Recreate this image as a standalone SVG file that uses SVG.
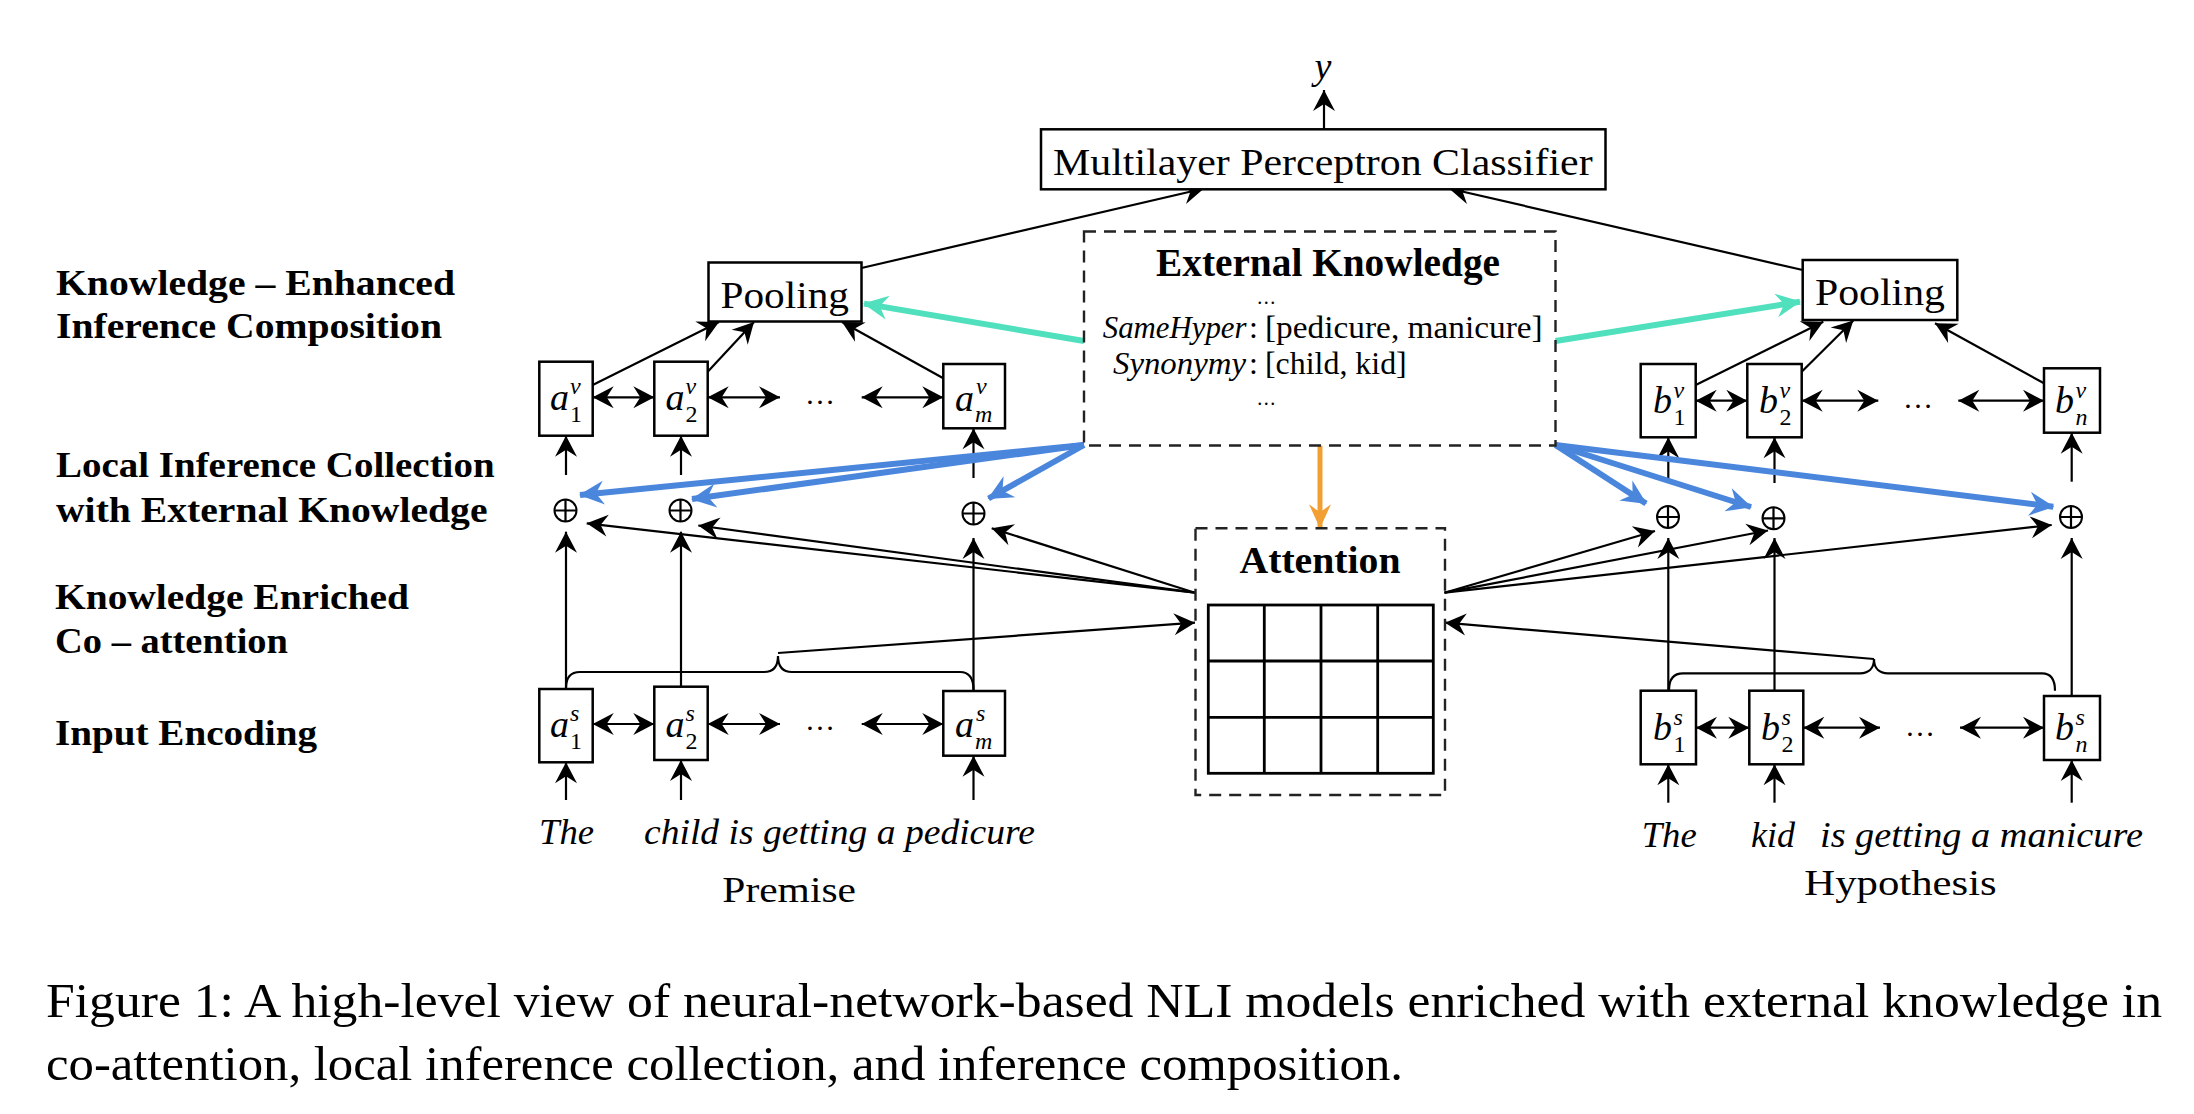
<svg xmlns="http://www.w3.org/2000/svg" width="2194" height="1114" viewBox="0 0 2194 1114">
<defs>
<style>
.box{fill:#fff;stroke:#000;stroke-width:2.5}
.dash{fill:none;stroke:#222;stroke-width:2.4;stroke-dasharray:12 8}
.ln{fill:none;stroke:#000;stroke-width:2.2}
.arr{marker-end:url(#ah)}
.dbl{marker-start:url(#ah);marker-end:url(#ah)}
.blue{fill:none;stroke:#4A86DC;stroke-width:6;marker-end:url(#ahb)}
.green{fill:none;stroke:#50E0BE;stroke-width:6;marker-end:url(#ahg)}
.orange{fill:none;stroke:#F2A033;stroke-width:5;marker-end:url(#aho)}
.grid{fill:none;stroke:#000;stroke-width:2.8}
.oplus{fill:#fff;stroke:#000;stroke-width:2}
text{font-family:"Liberation Serif","Times New Roman",serif;fill:#000}
.lbl{font-size:36px;font-weight:bold}
.t{font-size:38px}
.b{font-weight:bold}
.it{font-style:italic}
.w{font-size:35px;font-style:italic}
.m{font-size:38px;font-style:italic}
.sp{font-size:24px;font-style:italic}
.sb{font-size:24px}
.el{font-size:30px}
.kb{font-size:32px}
.kd{font-size:20px;letter-spacing:1.5px}
.cap{font-size:48px}
</style>
<marker id="ah" markerUnits="userSpaceOnUse" markerWidth="24" markerHeight="24" viewBox="-22 -12 24 24" refX="0" refY="0" orient="auto-start-reverse"><path d="M0,0 L-21,-11 L-14,0 L-21,11 Z" fill="#000"/></marker>
<marker id="ahb" markerUnits="userSpaceOnUse" markerWidth="28" markerHeight="28" viewBox="-26 -14 28 28" refX="0" refY="0" orient="auto"><path d="M1,0 L-24,-12 L-16,0 L-24,12 Z" fill="#4A86DC"/></marker>
<marker id="ahg" markerUnits="userSpaceOnUse" markerWidth="28" markerHeight="28" viewBox="-26 -14 28 28" refX="0" refY="0" orient="auto"><path d="M1,0 L-24,-12 L-16,0 L-24,12 Z" fill="#50E0BE"/></marker>
<marker id="aho" markerUnits="userSpaceOnUse" markerWidth="28" markerHeight="28" viewBox="-26 -14 28 28" refX="0" refY="0" orient="auto"><path d="M1,0 L-23,-11 L-15,0 L-23,11 Z" fill="#F2A033"/></marker>
</defs>
<rect width="2194" height="1114" fill="#fff"/>

<g id="connectors">
<path class="ln arr" d="M1324,129.3 L1324,90"/>
<path class="ln arr" d="M861.5,268 L1204,188.5"/>
<path class="ln arr" d="M1802.7,270 L1449,188.5"/>
<path class="ln arr" d="M592.7,385 L719,322"/>
<path class="ln arr" d="M707.7,371.7 L754,322"/>
<path class="ln arr" d="M943.3,378.3 L842,322"/>
<path class="ln arr" d="M1695.7,385 L1823.3,321.7"/>
<path class="ln arr" d="M1801.7,371.7 L1853.3,320.5"/>
<path class="ln arr" d="M2044,383.3 L1935,323.3"/>
<path class="ln dbl" d="M592.7,397.3 L654.3,397.3"/>
<path class="ln dbl" d="M707.7,397.3 L780,397.3"/>
<path class="ln dbl" d="M861.7,397.3 L943.3,397.3"/>
<path class="ln dbl" d="M592.7,724 L654.3,724"/>
<path class="ln dbl" d="M707.7,724 L780,724"/>
<path class="ln dbl" d="M861.7,724 L943.3,724"/>
<path class="ln dbl" d="M1695.7,400.7 L1747.3,400.7"/>
<path class="ln dbl" d="M1801.7,400.7 L1878.3,400.7"/>
<path class="ln dbl" d="M1958.3,400.7 L2044,400.7"/>
<path class="ln dbl" d="M1696,727.7 L1749.3,727.7"/>
<path class="ln dbl" d="M1803.3,727.7 L1880,727.7"/>
<path class="ln dbl" d="M1960,727.7 L2044,727.7"/>
<path class="ln arr" d="M566,475 L566,435.7"/>
<path class="ln arr" d="M681,475 L681,435.7"/>
<path class="ln arr" d="M973.5,478 L973.5,428.3"/>
<path class="ln arr" d="M1668.3,481.7 L1668.3,437.3"/>
<path class="ln arr" d="M1774.5,483 L1774.5,437.3"/>
<path class="ln arr" d="M2071.7,481.7 L2071.7,432.7"/>
<path class="ln arr" d="M566,689 L566,531.7"/>
<path class="ln arr" d="M681,686.7 L681,531.7"/>
<path class="ln arr" d="M973.5,691 L973.5,538"/>
<path class="ln arr" d="M1668.3,690.7 L1668.3,538"/>
<path class="ln arr" d="M1774.5,690.7 L1774.5,538"/>
<path class="ln arr" d="M2071.7,696 L2071.7,538"/>
<path class="ln arr" d="M566,800 L566,762.3"/>
<path class="ln arr" d="M681,800 L681,760"/>
<path class="ln arr" d="M973.5,800 L973.5,755.7"/>
<path class="ln arr" d="M1668.3,802.7 L1668.3,764.3"/>
<path class="ln arr" d="M1774.5,802.7 L1774.5,764.3"/>
<path class="ln arr" d="M2071.7,802.7 L2071.7,760"/>
<path class="ln arr" d="M1195,592.7 L586.7,523.3"/>
<path class="ln arr" d="M1195,592.7 L698.3,525.5"/>
<path class="ln arr" d="M1195,592.7 L991.7,528.3"/>
<path class="ln arr" d="M1444.5,592.7 L1655,531"/>
<path class="ln arr" d="M1444.5,592.7 L1768,530.5"/>
<path class="ln arr" d="M1444.5,592.7 L2051.7,525"/>
<path class="ln arr" d="M778,653 L1195,622.7"/>
<path class="ln arr" d="M1874,659 L1445,622.7"/>
<path class="ln" d="M566,688 C566,678 570,672 580,672 L764,672 C772,672 778,668 778,656 C778,668 784,672 792,672 L960,672 C969,672 973.5,678 973.5,690"/>
<path class="ln" d="M1669,690 C1669,680 1673,673.3 1683,673.3 L1860,673.3 C1868,673.3 1874,669 1874,659 C1874,669 1880,673.3 1888,673.3 L2042,673.3 C2051,673.3 2055,680 2055,690.7"/>
<path class="blue" d="M1084,445 L580,495"/>
<path class="blue" d="M1084,445 L692,499"/>
<path class="blue" d="M1084,445 L988.5,498.5"/>
<path class="blue" d="M1555.5,445 L1646,503.5"/>
<path class="blue" d="M1555.5,445 L1751,507"/>
<path class="blue" d="M1555.5,445 L2053.3,506.7"/>
<path class="green" d="M1084,341 L864,303.6"/>
<path class="green" d="M1555.5,341 L1800,301.7"/>
<path class="orange" d="M1320,445.7 L1320,527.3"/>
</g>

<g id="output-y"><text class="m" x="1323" y="79" text-anchor="middle">y</text></g>

<g id="mlp">
<rect class="box" x="1041" y="129.3" width="564.5" height="60"/>
<text class="t" x="1053" y="175" textLength="539.6" lengthAdjust="spacingAndGlyphs">Multilayer Perceptron Classifier</text>
</g>

<g id="pooling-premise">
<rect class="box" x="708.5" y="262.5" width="153" height="59"/>
<text class="t" x="720.5" y="307.8" textLength="128.5" lengthAdjust="spacingAndGlyphs">Pooling</text>
</g>
<g id="pooling-hypothesis">
<rect class="box" x="1802.7" y="260" width="154.6" height="60"/>
<text class="t" x="1815" y="305" textLength="130" lengthAdjust="spacingAndGlyphs">Pooling</text>
</g>

<g id="external-knowledge">
<rect class="dash" x="1084" y="231.5" width="471.5" height="214"/>
<text class="b" style="font-size:40px" x="1156" y="276" textLength="344" lengthAdjust="spacingAndGlyphs">External Knowledge</text>
<text class="kd" x="1267" y="304" text-anchor="middle">...</text>
<text class="kb it" x="1246.5" y="338.3" text-anchor="end" textLength="143.7" lengthAdjust="spacingAndGlyphs">SameHyper</text>
<text class="kb" x="1249" y="338.3">:</text>
<text class="kb" x="1265" y="338.3" textLength="277.7" lengthAdjust="spacingAndGlyphs">[pedicure, manicure]</text>
<text class="kb it" x="1246" y="374.3" text-anchor="end" textLength="133" lengthAdjust="spacingAndGlyphs">Synonymy</text>
<text class="kb" x="1249" y="374.3">:</text>
<text class="kb" x="1265" y="374.3" textLength="141.7" lengthAdjust="spacingAndGlyphs">[child, kid]</text>
<text class="kd" x="1267" y="405" text-anchor="middle">...</text>
</g>

<g id="attention">
<rect class="dash" x="1195.5" y="528.3" width="249.5" height="266.7"/>
<text class="b t" x="1239.5" y="572.7" textLength="161" lengthAdjust="spacingAndGlyphs">Attention</text>
<rect class="grid" x="1208.3" y="605" width="225" height="168.3"/>
<path class="grid" d="M1264.3,605 V773.3 M1321,605 V773.3 M1377.7,605 V773.3 M1208.3,661 H1433.3 M1208.3,717.3 H1433.3"/>
</g>

<g id="a1v"><rect class="box" x="539.3" y="361.7" width="53.4" height="74"/><text class="m" x="550" y="410">a</text><text class="sp" x="570" y="394.3">v</text><text class="sb" x="570" y="421.8">1</text></g>
<g id="a2v"><rect class="box" x="654.3" y="361.7" width="53.4" height="74"/><text class="m" x="665.5" y="410">a</text><text class="sp" x="685.5" y="394.3">v</text><text class="sb" x="685.5" y="421.8">2</text></g>
<g id="amv"><rect class="box" x="943.3" y="364" width="61.7" height="64.3"/><text class="m" x="955" y="410.5">a</text><text class="sp" x="976" y="394.3">v</text><text class="sp" x="975" y="421.8">m</text></g>
<g id="a1s"><rect class="box" x="539.3" y="689" width="53.4" height="73.3"/><text class="m" x="550" y="736.7">a</text><text class="sp" x="570" y="721">s</text><text class="sb" x="570" y="748.5">1</text></g>
<g id="a2s"><rect class="box" x="654.3" y="686.7" width="53.4" height="73.3"/><text class="m" x="665.5" y="736.7">a</text><text class="sp" x="685.5" y="721">s</text><text class="sb" x="685.5" y="748.5">2</text></g>
<g id="ams"><rect class="box" x="943.3" y="691" width="61.7" height="64.7"/><text class="m" x="955" y="737">a</text><text class="sp" x="976" y="721">s</text><text class="sp" x="975" y="748.5">m</text></g>

<g id="b1v"><rect class="box" x="1640.7" y="364" width="55" height="73.3"/><text class="m" x="1653" y="413">b</text><text class="sp" x="1673.5" y="397.7">v</text><text class="sb" x="1673.5" y="425.2">1</text></g>
<g id="b2v"><rect class="box" x="1747.3" y="364" width="54.4" height="73.3"/><text class="m" x="1759" y="413">b</text><text class="sp" x="1779.5" y="397.7">v</text><text class="sb" x="1779.5" y="425.2">2</text></g>
<g id="bnv"><rect class="box" x="2044" y="368.3" width="56" height="64.4"/><text class="m" x="2055" y="413">b</text><text class="sp" x="2075.5" y="397.7">v</text><text class="sp" x="2075.5" y="425.2">n</text></g>
<g id="b1s"><rect class="box" x="1640.7" y="690.7" width="55.3" height="73.6"/><text class="m" x="1653" y="740">b</text><text class="sp" x="1673.5" y="724.7">s</text><text class="sb" x="1673.5" y="752.2">1</text></g>
<g id="b2s"><rect class="box" x="1749.3" y="690.7" width="54" height="73.6"/><text class="m" x="1761" y="740">b</text><text class="sp" x="1781.5" y="724.7">s</text><text class="sb" x="1781.5" y="752.2">2</text></g>
<g id="bns"><rect class="box" x="2044" y="696" width="56" height="64"/><text class="m" x="2055" y="740">b</text><text class="sp" x="2075.5" y="724.7">s</text><text class="sp" x="2075.5" y="752.2">n</text></g>

<g id="ellipses">
<text class="el" x="820" y="404" text-anchor="middle">…</text>
<text class="el" x="820" y="730" text-anchor="middle">…</text>
<text class="el" x="1918" y="407.5" text-anchor="middle">…</text>
<text class="el" x="1920" y="735.5" text-anchor="middle">…</text>
</g>

<g id="oplus-nodes">
<g id="oplus-a1"><circle class="oplus" cx="565.5" cy="510.5" r="11"/><path class="ln" d="M554.5,510.5 H576.5 M565.5,499.5 V521.5"/></g>
<g id="oplus-a2"><circle class="oplus" cx="680.5" cy="510.5" r="11"/><path class="ln" d="M669.5,510.5 H691.5 M680.5,499.5 V521.5"/></g>
<g id="oplus-am"><circle class="oplus" cx="973.5" cy="513.5" r="11"/><path class="ln" d="M962.5,513.5 H984.5 M973.5,502.5 V524.5"/></g>
<g id="oplus-b1"><circle class="oplus" cx="1668" cy="517" r="11"/><path class="ln" d="M1657,517 H1679 M1668,506 V528"/></g>
<g id="oplus-b2"><circle class="oplus" cx="1773.5" cy="518.3" r="11"/><path class="ln" d="M1762.5,518.3 H1784.5 M1773.5,507.3 V529.3"/></g>
<g id="oplus-bn"><circle class="oplus" cx="2071" cy="517" r="11"/><path class="ln" d="M2060,517 H2082 M2071,506 V528"/></g>
</g>

<g id="layer-labels">
<text class="lbl" x="56" y="295" textLength="399" lengthAdjust="spacingAndGlyphs">Knowledge – Enhanced</text>
<text class="lbl" x="56" y="338" textLength="386" lengthAdjust="spacingAndGlyphs">Inference Composition</text>
<text class="lbl" x="56" y="477" textLength="438.6" lengthAdjust="spacingAndGlyphs">Local Inference Collection</text>
<text class="lbl" x="56" y="522" textLength="431.5" lengthAdjust="spacingAndGlyphs">with External Knowledge</text>
<text class="lbl" x="55" y="608.5" textLength="354" lengthAdjust="spacingAndGlyphs">Knowledge Enriched</text>
<text class="lbl" x="55" y="653.3" textLength="233" lengthAdjust="spacingAndGlyphs">Co – attention</text>
<text class="lbl" x="55" y="745" textLength="262" lengthAdjust="spacingAndGlyphs">Input Encoding</text>
</g>

<g id="premise-text">
<text class="w" x="539" y="844" textLength="55" lengthAdjust="spacingAndGlyphs">The</text>
<text class="w" x="644" y="844" textLength="391" lengthAdjust="spacingAndGlyphs">child is getting a pedicure</text>
<text style="font-size:36px" x="722.3" y="901.7" textLength="133.7" lengthAdjust="spacingAndGlyphs">Premise</text>
</g>
<g id="hypothesis-text">
<text class="w" x="1641.7" y="846.7" textLength="55" lengthAdjust="spacingAndGlyphs">The</text>
<text class="w" x="1751" y="846.7" textLength="44" lengthAdjust="spacingAndGlyphs">kid</text>
<text class="w" x="1820" y="846.7" textLength="323" lengthAdjust="spacingAndGlyphs">is getting a manicure</text>
<text style="font-size:36px" x="1804.3" y="895" textLength="192.4" lengthAdjust="spacingAndGlyphs">Hypothesis</text>
</g>

<g id="caption">
<text class="cap" x="46" y="1017" textLength="2116" lengthAdjust="spacingAndGlyphs">Figure 1: A high-level view of neural-network-based NLI models enriched with external knowledge in</text>
<text class="cap" x="46" y="1080" textLength="1357" lengthAdjust="spacingAndGlyphs">co-attention, local inference collection, and inference composition.</text>
</g>
</svg>
